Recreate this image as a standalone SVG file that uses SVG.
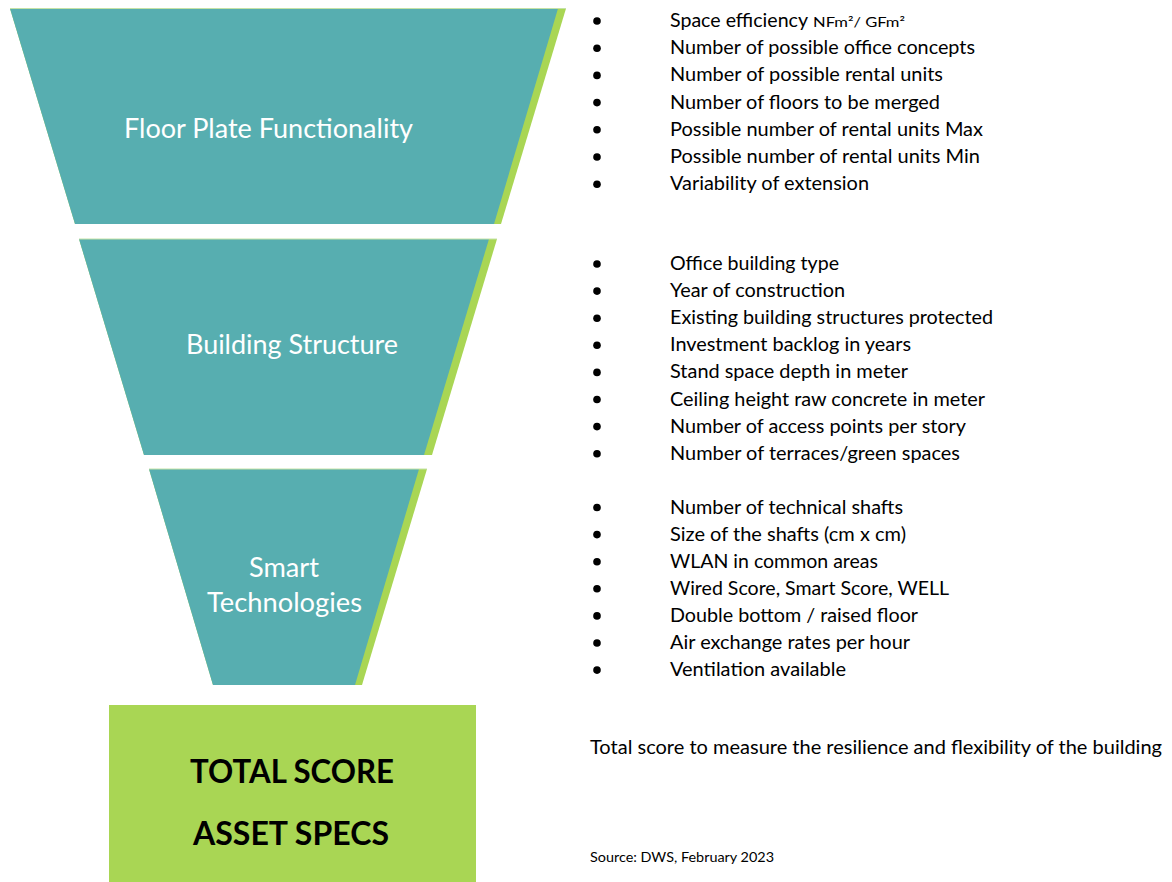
<svg xmlns="http://www.w3.org/2000/svg" width="1172" height="882" viewBox="0 0 1172 882">
<style>
.green{fill:#A9D654;}
.teal{fill:#57AEB0;}
.topline{stroke:#C4E2A6;stroke-width:1;}
.head{font-family:Lato,"Open Sans",sans-serif;font-size:26px;fill:#FFFFFF;text-anchor:middle;}
.total{font-family:Lato,"Open Sans",sans-serif;font-size:32px;font-weight:bold;fill:#000000;text-anchor:middle;}
.item{font-family:Lato,"Open Sans",sans-serif;font-size:18.5px;fill:#000000;}
.small{font-family:Lato,"Open Sans",sans-serif;font-size:14px;fill:#000000;}
.note{font-family:Lato,"Open Sans",sans-serif;font-size:18.5px;fill:#000000;}
.src{font-family:Lato,"Open Sans",sans-serif;font-size:13px;fill:#000000;}
.dot{fill:#000000;}
</style>
<rect x="0" y="0" width="1172" height="882" fill="#FFFFFF"/>

<g id="floor-plate">
<polygon class="green" points="10,8.5 566,8.5 501,224 75,224"/>
<polygon class="teal" points="10,8.5 558,8.5 494,224 75,224"/>
<line class="topline" x1="10" y1="8.5" x2="566" y2="8.5"/>
<text class="head" x="268.5" y="138" textLength="289" lengthAdjust="spacingAndGlyphs">Floor Plate Functionality</text>
</g>

<g id="building-structure">
<polygon class="green" points="79,239 497,239 432,455 144,455"/>
<polygon class="teal" points="79,239 489,239 424,455 144,455"/>
<line class="topline" x1="79" y1="239" x2="497" y2="239"/>
<text class="head" x="292" y="354" textLength="212" lengthAdjust="spacingAndGlyphs">Building Structure</text>
</g>

<g id="smart-technologies">
<polygon class="green" points="149,469 427,469 362,685 213,685"/>
<polygon class="teal" points="149,469 419,469 355,685 213,685"/>
<line class="topline" x1="149" y1="469" x2="427" y2="469"/>
<text class="head" x="284" y="577" textLength="70" lengthAdjust="spacingAndGlyphs">Smart</text>
<text class="head" x="284.5" y="612" textLength="155" lengthAdjust="spacingAndGlyphs">Technologies</text>
</g>

<g id="total-score">
<rect class="green" x="109" y="705" width="367" height="177"/>
<text class="total" x="292" y="783" textLength="204" lengthAdjust="spacingAndGlyphs">TOTAL SCORE</text>
<text class="total" x="291" y="845" textLength="196" lengthAdjust="spacingAndGlyphs">ASSET SPECS</text>
</g>

<g id="floor-plate-criteria">
<circle class="dot" cx="597" cy="21" r="3.8"/>
<text class="item" x="670" y="27" textLength="138" lengthAdjust="spacingAndGlyphs">Space efficiency</text>
<text class="small" x="813" y="27" textLength="92" lengthAdjust="spacingAndGlyphs">NFm²/ GFm²</text>
<circle class="dot" cx="597" cy="48.2" r="3.8"/>
<text class="item" x="670" y="54.2" textLength="305" lengthAdjust="spacingAndGlyphs">Number of possible office concepts</text>
<circle class="dot" cx="597" cy="75.4" r="3.8"/>
<text class="item" x="670" y="81.4" textLength="273" lengthAdjust="spacingAndGlyphs">Number of possible rental units</text>
<circle class="dot" cx="597" cy="102.6" r="3.8"/>
<text class="item" x="670" y="108.6" textLength="270" lengthAdjust="spacingAndGlyphs">Number of floors to be merged</text>
<circle class="dot" cx="597" cy="129.8" r="3.8"/>
<text class="item" x="670" y="135.8" textLength="313" lengthAdjust="spacingAndGlyphs">Possible number of rental units Max</text>
<circle class="dot" cx="597" cy="157" r="3.8"/>
<text class="item" x="670" y="163" textLength="310" lengthAdjust="spacingAndGlyphs">Possible number of rental units Min</text>
<circle class="dot" cx="597" cy="184.2" r="3.8"/>
<text class="item" x="670" y="190.2" textLength="199" lengthAdjust="spacingAndGlyphs">Variability of extension</text>
</g>

<g id="building-structure-criteria">
<circle class="dot" cx="597" cy="264" r="3.8"/>
<text class="item" x="670" y="270" textLength="169" lengthAdjust="spacingAndGlyphs">Office building type</text>
<circle class="dot" cx="597" cy="291.1" r="3.8"/>
<text class="item" x="670" y="297.1" textLength="175" lengthAdjust="spacingAndGlyphs">Year of construction</text>
<circle class="dot" cx="597" cy="318.2" r="3.8"/>
<text class="item" x="670" y="324.2" textLength="323" lengthAdjust="spacingAndGlyphs">Existing building structures protected</text>
<circle class="dot" cx="597" cy="345.3" r="3.8"/>
<text class="item" x="670" y="351.3" textLength="241" lengthAdjust="spacingAndGlyphs">Investment backlog in years</text>
<circle class="dot" cx="597" cy="372.4" r="3.8"/>
<text class="item" x="670" y="378.4" textLength="238" lengthAdjust="spacingAndGlyphs">Stand space depth in meter</text>
<circle class="dot" cx="597" cy="399.5" r="3.8"/>
<text class="item" x="670" y="405.5" textLength="315" lengthAdjust="spacingAndGlyphs">Ceiling height raw concrete in meter</text>
<circle class="dot" cx="597" cy="426.6" r="3.8"/>
<text class="item" x="670" y="432.6" textLength="296" lengthAdjust="spacingAndGlyphs">Number of access points per story</text>
<circle class="dot" cx="597" cy="453.7" r="3.8"/>
<text class="item" x="670" y="459.7" textLength="290" lengthAdjust="spacingAndGlyphs">Number of terraces/green spaces</text>
</g>

<g id="smart-technologies-criteria">
<circle class="dot" cx="597" cy="507.5" r="3.8"/>
<text class="item" x="670" y="513.5" textLength="233" lengthAdjust="spacingAndGlyphs">Number of technical shafts</text>
<circle class="dot" cx="597" cy="534.6" r="3.8"/>
<text class="item" x="670" y="540.6" textLength="236" lengthAdjust="spacingAndGlyphs">Size of the shafts (cm x cm)</text>
<circle class="dot" cx="597" cy="561.7" r="3.8"/>
<text class="item" x="670" y="567.7" textLength="208" lengthAdjust="spacingAndGlyphs">WLAN in common areas</text>
<circle class="dot" cx="597" cy="588.8" r="3.8"/>
<text class="item" x="670" y="594.8" textLength="279" lengthAdjust="spacingAndGlyphs">Wired Score, Smart Score, WELL</text>
<circle class="dot" cx="597" cy="615.9" r="3.8"/>
<text class="item" x="670" y="621.9" textLength="248" lengthAdjust="spacingAndGlyphs">Double bottom / raised floor</text>
<circle class="dot" cx="597" cy="643" r="3.8"/>
<text class="item" x="670" y="649" textLength="240" lengthAdjust="spacingAndGlyphs">Air exchange rates per hour</text>
<circle class="dot" cx="597" cy="670.1" r="3.8"/>
<text class="item" x="670" y="676.1" textLength="176" lengthAdjust="spacingAndGlyphs">Ventilation available</text>
</g>

<g id="notes">
<text class="note" x="590" y="754" textLength="572" lengthAdjust="spacingAndGlyphs">Total score to measure the resilience and flexibility of the building</text>
<text class="src" x="590" y="862" textLength="184" lengthAdjust="spacingAndGlyphs">Source: DWS, February 2023</text>
</g>
</svg>
